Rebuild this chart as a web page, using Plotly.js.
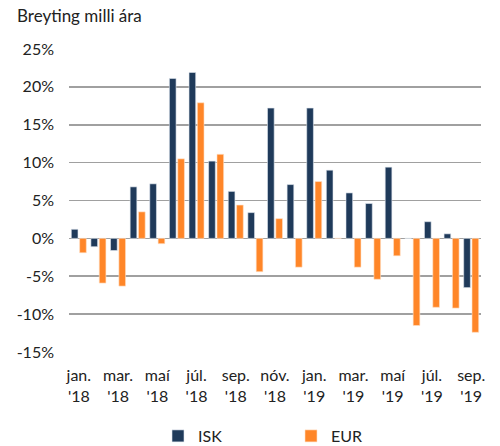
<!DOCTYPE html>
<html><head><meta charset="utf-8">
<script src="https://cdn.plot.ly/plotly-3.0.1.min.js"></script>
<style>html,body{margin:0;padding:0;background:#fff;}#chart{width:500px;height:446px;}</style>
</head><body><div id="chart"></div>
<script>
const months = ["jan18","feb18","mar18","apr18","mai18","jun18","jul18","agu18","sep18","okt18","nov18","des18",
                "jan19","feb19","mar19","apr19","mai19","jun19","jul19","agu19","sep19"];
const isk = [1.2,-1.1,-1.6,6.8,7.2,21.1,21.9,10.2,6.2,3.4,17.2,7.1,17.2,9.0,6.0,4.6,9.4,0,2.2,0.6,-6.5];
const eur = [-1.9,-5.9,-6.3,3.5,-0.7,10.5,17.9,11.1,4.4,-4.4,2.6,-3.8,7.5,0,-3.8,-5.4,-2.3,-11.5,-9.1,-9.2,-12.4];
const tickVals = ["jan18","mar18","mai18","jul18","sep18","nov18","jan19","mar19","mai19","jul19","sep19"];
const tickText = ["jan.<br>'18","mar.<br>'18","maí<br>'18","júl.<br>'18","sep.<br>'18","nóv.<br>'18",
                  "jan.<br>'19","mar.<br>'19","maí<br>'19","júl.<br>'19","sep.<br>'19"];
const yTicks = [-15,-10,-5,0,5,10,15,20,25];
const yText = yTicks.map(v => v + "%");

const font = {family: "Lato, 'Open Sans', sans-serif", size: 15, color: "#222"};
const traces = [
  {type: "bar", name: "ISK", x: months, y: isk, marker: {color: "#1F3A5A", line: {color: "#dfe6ee", width: 0.6}}},
  {type: "bar", name: "EUR", x: months, y: eur, marker: {color: "#FF8628", line: {color: "#ffe0c8", width: 0.6}}}
];
const layout = {
  width: 500, height: 446,
  margin: {l: 69, r: 19, t: 49, b: 94},
  paper_bgcolor: "#fff", plot_bgcolor: "#fff",
  font: font,
  title: {text: "Breyting milli ára", x: 17/500, xanchor: "left", xref: "container", y: 1 - 16/446, yanchor: "middle", yref: "container",
          font: {family: font.family, size: 17, color: "#222"}},
  barmode: "group", bargap: 0.15, bargroupgap: 0.2,
  showlegend: true,
  legend: {orientation: "h", xref: "container", yref: "container", x: 158/500, xanchor: "left", y: 1 - 436/446, yanchor: "middle",
           entrywidth: 88, font: {family: font.family, size: 16, color: "#222"}},
  xaxis: {type: "category", categoryorder: "array", categoryarray: months,
          tickmode: "array", tickvals: tickVals, ticktext: tickText, tickangle: 0,
          showgrid: false, showline: false, zeroline: false, ticks: "", ticklabelstandoff: 12,
          tickfont: {family: font.family, size: 16, color: "#222"}},
  yaxis: {range: [-15, 25], tickmode: "array", tickvals: yTicks, ticktext: yText,
          showgrid: true, gridcolor: "#a0a0a0", gridwidth: 1.6, zeroline: true, zerolinecolor: "#a0a0a0", zerolinewidth: 1.6,
          showline: false, ticks: "", ticklabelstandoff: 14,
          tickfont: {family: font.family, size: 16, color: "#222"}}
};
Plotly.newPlot("chart", traces, layout, {displayModeBar: false, staticPlot: true});
</script></body></html>
